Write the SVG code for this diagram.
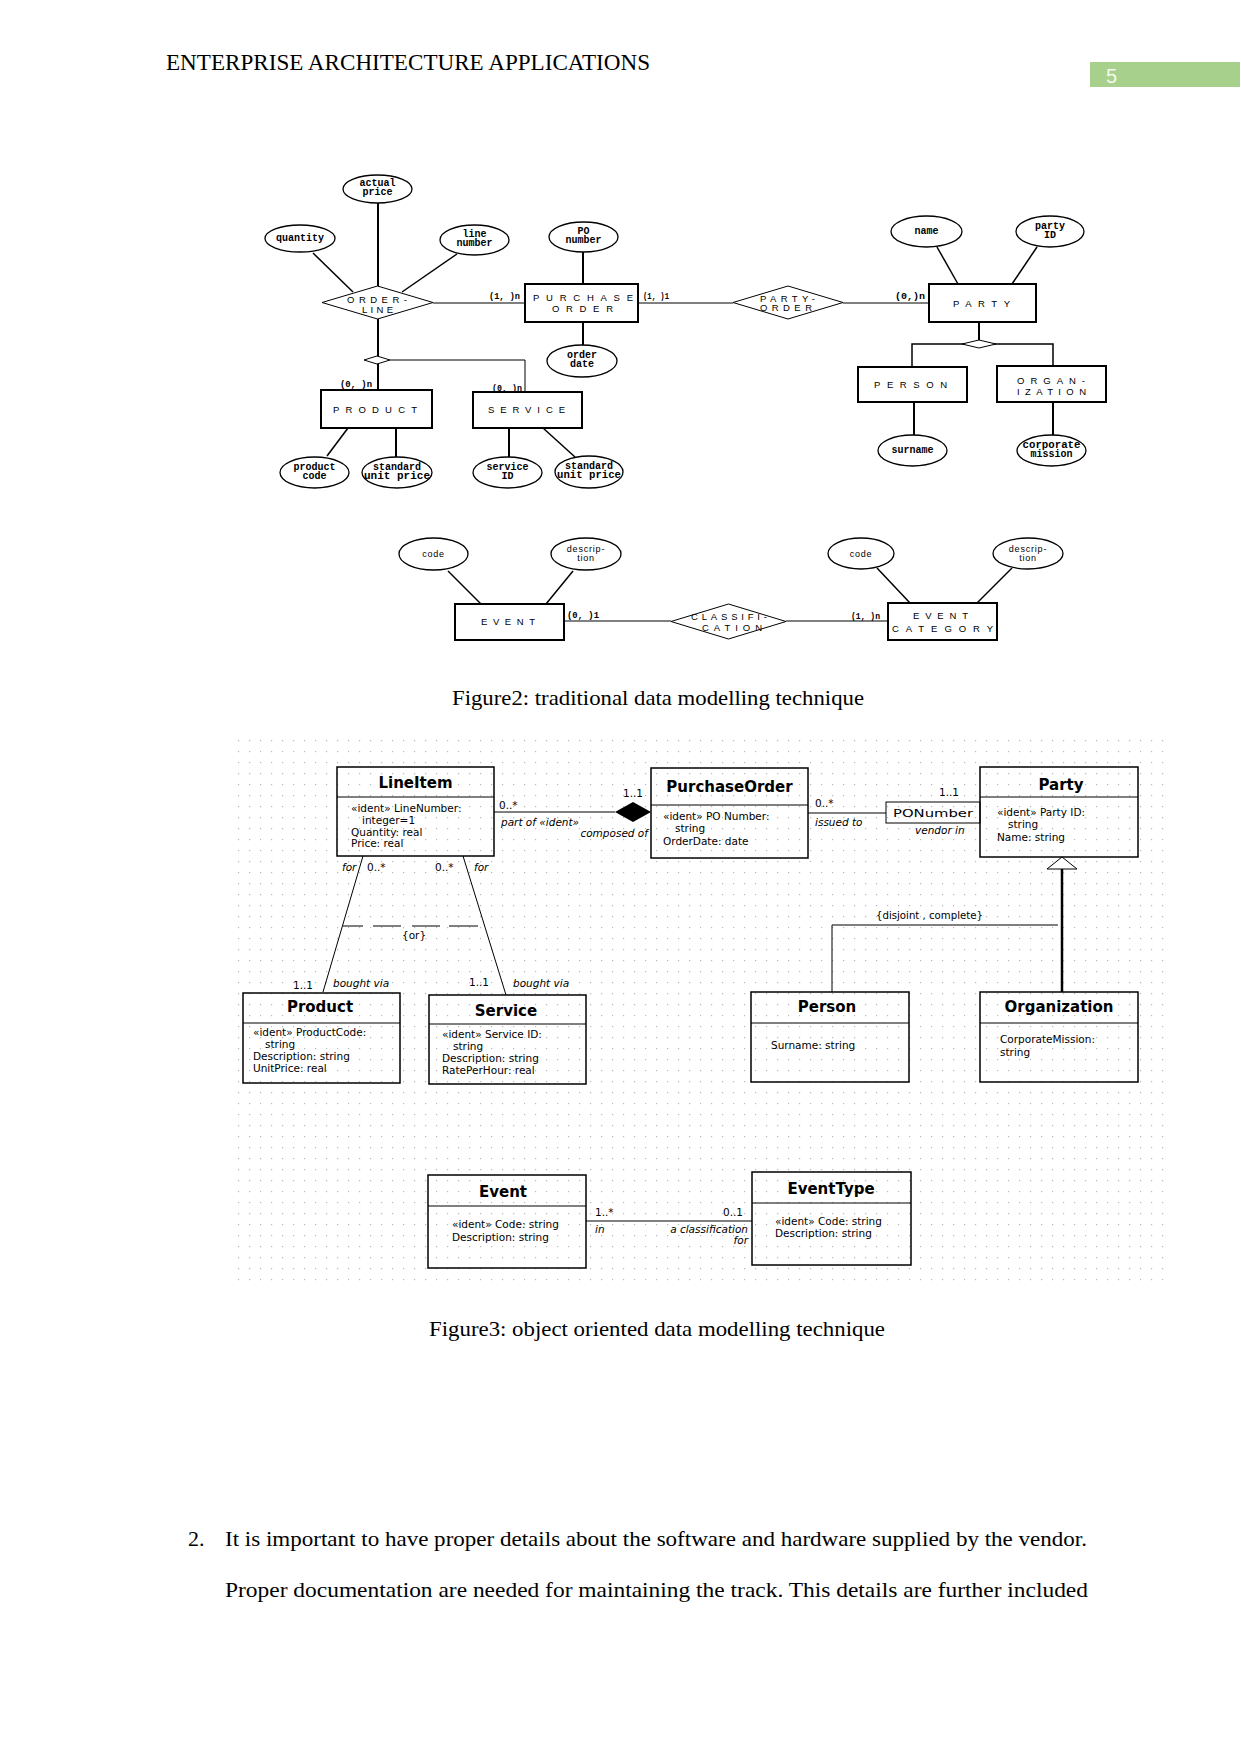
<svg xmlns="http://www.w3.org/2000/svg" width="1241" height="1754" viewBox="0 0 1241 1754">
<defs>
<pattern id="grid" x="233" y="735" width="11" height="11" patternUnits="userSpaceOnUse">
<rect x="5" y="5" width="1.2" height="1.2" fill="#b8b8b8"/>
</pattern>
</defs>
<style>
.doc{font-family:"Liberation Serif","Times New Roman",serif;fill:#000}
.ent{fill:#fff;stroke:#000;stroke-width:2}
.ell{fill:#fff;stroke:#000;stroke-width:1.3}
.dia{fill:#fff;stroke:#000;stroke-width:1}
.er{font-family:"Liberation Sans",Arial,sans-serif;font-size:9.5px;fill:#000}
.at{font-family:"Liberation Mono","Courier New",monospace;font-weight:bold;font-size:10px;fill:#000;text-anchor:middle}
.ats{font-family:"Liberation Sans",Arial,sans-serif;font-size:9px;fill:#000;text-anchor:middle;letter-spacing:0.8px}
.card{font-family:"Liberation Mono","Courier New",monospace;font-weight:bold;font-size:9px;fill:#000}
.l1{stroke:#000;stroke-width:1;fill:none}
.l15{stroke:#000;stroke-width:1.5;fill:none}
.l2{stroke:#000;stroke-width:2;fill:none}
.cls{fill:none;stroke:#000;stroke-width:1.5}
.ttl{font-family:"DejaVu Sans",Verdana,sans-serif;font-weight:bold;font-size:15px;text-anchor:middle;fill:#000}
.att{font-family:"DejaVu Sans",Verdana,sans-serif;font-size:10.5px;fill:#000}
.it{font-family:"DejaVu Sans",Verdana,sans-serif;font-size:10.5px;font-style:italic;fill:#000}
.end{text-anchor:end}
</style>

<!-- page header -->
<text class="doc" x="166" y="70" font-size="22.8" textLength="484" lengthAdjust="spacingAndGlyphs">ENTERPRISE ARCHITECTURE APPLICATIONS</text>
<rect x="1090" y="62" width="150" height="25" fill="#a8d08d"/>
<text x="1106" y="83" font-family="Liberation Sans, Arial, sans-serif" font-size="20" fill="#f3f9ec">5</text>

<!-- ===== Figure 2: ER ===== -->
<g id="er-connectors">
<path class="l2" d="M378 203 V287"/>
<path class="l15" d="M313 253 L353 292"/>
<path class="l15" d="M457 254 L402 292"/>
<path class="l1" d="M433 303 H525"/>
<path class="l2" d="M583 252 V284"/>
<path class="l2" d="M583 322 V345"/>
<path class="l2" d="M378 319 V356"/>
<path class="l1" d="M390 360 H525 V392"/>
<path class="l2" d="M378 364 V390"/>
<path class="l15" d="M348 428 L327 456"/>
<path class="l2" d="M396 428 V457"/>
<path class="l2" d="M509 428 V457"/>
<path class="l15" d="M543 428 L575 457"/>
<path class="l1" d="M638 303 H733"/>
<path class="l1" d="M843 303 H929"/>
<path class="l15" d="M937 247 L958 284"/>
<path class="l15" d="M1037 247 L1012 284"/>
<path class="l2" d="M979 322 V340"/>
<path class="l15" d="M912 367 V344 H1053 V366"/>
<path class="l2" d="M914 402 V435"/>
<path class="l2" d="M1053 402 V435"/>
<path class="l15" d="M448 571 L481 604"/>
<path class="l15" d="M573 571 L546 604"/>
<path class="l1" d="M564 621 H671"/>
<path class="l1" d="M786 621 H888"/>
<path class="l15" d="M877 568 L910 603"/>
<path class="l15" d="M1012 568 L977 603"/>
<text class="card" x="489" y="299" textLength="31" lengthAdjust="spacingAndGlyphs">(1, )n</text>
<text class="card" x="643" y="299" textLength="26" lengthAdjust="spacingAndGlyphs">(1, )1</text>
<text class="card" x="895" y="299" textLength="30" lengthAdjust="spacingAndGlyphs">(0,)n</text>
<text class="card" x="340" y="387" textLength="32" lengthAdjust="spacingAndGlyphs">(0, )n</text>
<text class="card" x="492" y="391" textLength="30" lengthAdjust="spacingAndGlyphs">(0, )n</text>
<text class="card" x="567" y="618" textLength="32" lengthAdjust="spacingAndGlyphs">(0, )1</text>
<text class="card" x="851" y="619" textLength="29" lengthAdjust="spacingAndGlyphs">(1, )n</text>
</g>

<g id="er-orderline">
<polygon class="dia" points="322,302.5 377.5,286 433,302.5 377.5,319"/>
<text class="er" x="347" y="303" textLength="60" lengthAdjust="spacing">ORDER-</text>
<text class="er" x="362" y="313" textLength="31" lengthAdjust="spacing">LINE</text>
</g>
<g id="er-subtype1"><polygon class="dia" points="364,360 377,356 390,360 377,364"/></g>
<g id="er-purchaseorder">
<rect class="ent" x="525" y="284" width="113" height="38"/>
<text class="er" x="533" y="301" textLength="100" lengthAdjust="spacing">PURCHASE</text>
<text class="er" x="552" y="312" textLength="61" lengthAdjust="spacing">ORDER</text>
</g>
<g id="er-product">
<rect class="ent" x="321" y="390" width="111" height="38"/>
<text class="er" x="333" y="413" textLength="84" lengthAdjust="spacing">PRODUCT</text>
</g>
<g id="er-service">
<rect class="ent" x="473" y="392" width="109" height="36"/>
<text class="er" x="488" y="413" textLength="77" lengthAdjust="spacing">SERVICE</text>
</g>
<g id="er-partyorder">
<polygon class="dia" points="733,302.5 788,286 843,302.5 788,319"/>
<text class="er" x="760" y="302" textLength="55" lengthAdjust="spacing">PARTY-</text>
<text class="er" x="760" y="311" textLength="52" lengthAdjust="spacing">ORDER</text>
</g>
<g id="er-party">
<rect class="ent" x="929" y="284" width="107" height="38"/>
<text class="er" x="953" y="307" textLength="57" lengthAdjust="spacing">PARTY</text>
</g>
<g id="er-subtype2"><polygon class="dia" points="962,344 979,340 996,344 979,348"/></g>
<g id="er-person">
<rect class="ent" x="858" y="367" width="109" height="35"/>
<text class="er" x="874" y="388" textLength="73" lengthAdjust="spacing">PERSON</text>
</g>
<g id="er-organization">
<rect class="ent" x="997" y="366" width="109" height="36"/>
<text class="er" x="1017" y="384" textLength="68" lengthAdjust="spacing">ORGAN-</text>
<text class="er" x="1017" y="395" textLength="69" lengthAdjust="spacing">IZATION</text>
</g>
<g id="er-event">
<rect class="ent" x="455" y="604" width="109" height="36"/>
<text class="er" x="481" y="625" textLength="54" lengthAdjust="spacing">EVENT</text>
</g>
<g id="er-classification">
<polygon class="dia" points="671,621.5 728.5,604 786,621.5 728.5,639"/>
<text class="er" x="691" y="620" textLength="76" lengthAdjust="spacing">CLASSIFI-</text>
<text class="er" x="702" y="631" textLength="60" lengthAdjust="spacing">CATION</text>
</g>
<g id="er-eventcategory">
<rect class="ent" x="888" y="603" width="109" height="37"/>
<text class="er" x="913" y="619" textLength="55" lengthAdjust="spacing">EVENT</text>
<text class="er" x="892" y="632" textLength="101" lengthAdjust="spacing">CATEGORY</text>
</g>

<g id="er-attr-actualprice"><ellipse class="ell" cx="377.5" cy="189" rx="34.5" ry="14"/><text class="at" x="377.5" y="186">actual</text><text class="at" x="377.5" y="195">price</text></g>
<g id="er-attr-quantity"><ellipse class="ell" cx="300" cy="238.5" rx="35" ry="13.5"/><text class="at" x="300" y="241">quantity</text></g>
<g id="er-attr-linenumber"><ellipse class="ell" cx="474.5" cy="240" rx="34.5" ry="15"/><text class="at" x="474.5" y="237">line</text><text class="at" x="474.5" y="246">number</text></g>
<g id="er-attr-ponumber"><ellipse class="ell" cx="583.5" cy="237" rx="34.5" ry="15"/><text class="at" x="583.5" y="234">PO</text><text class="at" x="583.5" y="243">number</text></g>
<g id="er-attr-orderdate"><ellipse class="ell" cx="582" cy="361" rx="35" ry="16"/><text class="at" x="582" y="358">order</text><text class="at" x="582" y="367">date</text></g>
<g id="er-attr-productcode"><ellipse class="ell" cx="314.5" cy="472.5" rx="34.5" ry="15.5"/><text class="at" x="314.5" y="470">product</text><text class="at" x="314.5" y="479">code</text></g>
<g id="er-attr-stdprice1"><ellipse class="ell" cx="397" cy="472.5" rx="35" ry="15.5"/><text class="at" x="397" y="470">standard</text><text class="at" x="397" y="479" textLength="66" lengthAdjust="spacingAndGlyphs">unit price</text></g>
<g id="er-attr-serviceid"><ellipse class="ell" cx="507.5" cy="472.5" rx="34.5" ry="15.5"/><text class="at" x="507.5" y="470">service</text><text class="at" x="507.5" y="479">ID</text></g>
<g id="er-attr-stdprice2"><ellipse class="ell" cx="589" cy="472" rx="34" ry="16"/><text class="at" x="589" y="469">standard</text><text class="at" x="589" y="478" textLength="64" lengthAdjust="spacingAndGlyphs">unit price</text></g>
<g id="er-attr-name"><ellipse class="ell" cx="926.5" cy="231.5" rx="35.5" ry="15.5"/><text class="at" x="926.5" y="234">name</text></g>
<g id="er-attr-partyid"><ellipse class="ell" cx="1050" cy="231.5" rx="34" ry="15.5"/><text class="at" x="1050" y="229">party</text><text class="at" x="1050" y="238">ID</text></g>
<g id="er-attr-surname"><ellipse class="ell" cx="912.5" cy="450.5" rx="34.5" ry="15.5"/><text class="at" x="912.5" y="453">surname</text></g>
<g id="er-attr-mission"><ellipse class="ell" cx="1051.5" cy="450.5" rx="34.5" ry="15.5"/><text class="at" x="1051.5" y="448" textLength="58" lengthAdjust="spacingAndGlyphs">corporate</text><text class="at" x="1051.5" y="457">mission</text></g>
<g id="er-attr-code1"><ellipse class="ell" cx="433.5" cy="554" rx="34.5" ry="16"/><text class="ats" x="433.5" y="557">code</text></g>
<g id="er-attr-desc1"><ellipse class="ell" cx="586" cy="554" rx="35" ry="16"/><text class="ats" x="586" y="552">descrip-</text><text class="ats" x="586" y="561">tion</text></g>
<g id="er-attr-code2"><ellipse class="ell" cx="861" cy="553.5" rx="33" ry="15.5"/><text class="ats" x="861" y="557">code</text></g>
<g id="er-attr-desc2"><ellipse class="ell" cx="1028" cy="553.5" rx="35" ry="15.5"/><text class="ats" x="1028" y="552">descrip-</text><text class="ats" x="1028" y="561">tion</text></g>

<text class="doc" x="452" y="705" font-size="22" textLength="412" lengthAdjust="spacingAndGlyphs">Figure2: traditional data modelling technique</text>

<!-- ===== Figure 3: UML ===== -->
<rect x="233" y="735" width="931" height="552" fill="url(#grid)"/>

<g id="uml-connectors">
<path class="l1" d="M494 812 H615"/>
<polygon points="615,812 633,802 651,812 633,822" fill="#000"/>
<path class="l1" d="M808 813 H886"/>
<path class="l1" d="M363 856 L323 992"/>
<path class="l1" d="M463 856 L506 995"/>
<path class="l1" d="M343 926 H478" stroke-dasharray="20 10 28 11 28 9 29"/>
<polygon points="1062,857 1047,869 1077,869" fill="#fff" stroke="#000" stroke-width="1"/>
<path stroke="#000" stroke-width="2.5" fill="none" d="M1062 869 V992"/>
<path class="l1" d="M1058 925 H832 V992"/>
<path class="l1" d="M586 1221 H752"/>
<text class="att" x="499" y="809">0..*</text>
<text class="att" x="623" y="797">1..1</text>
<text class="it" x="501" y="826">part of «ident»</text>
<text class="it end" x="648" y="837">composed of</text>
<text class="att" x="815" y="807">0..*</text>
<text class="it" x="815" y="826">issued to</text>
<text class="att" x="939" y="796">1..1</text>
<text class="it" x="915" y="834">vendor in</text>
<text class="it" x="342" y="871">for</text>
<text class="att" x="367" y="871">0..*</text>
<text class="att" x="435" y="871">0..*</text>
<text class="it" x="474" y="871">for</text>
<text class="att" x="402" y="939">{or}</text>
<text class="att" x="293" y="989">1..1</text>
<text class="it" x="333" y="987">bought via</text>
<text class="att" x="469" y="986">1..1</text>
<text class="it" x="513" y="987">bought via</text>
<text class="att" x="876" y="919" textLength="107" lengthAdjust="spacingAndGlyphs">{disjoint , complete}</text>
<text class="att" x="595" y="1216">1..*</text>
<text class="att" x="723" y="1216">0..1</text>
<text class="it" x="595" y="1233">in</text>
<text class="it end" x="748" y="1233">a classification</text>
<text class="it end" x="748" y="1244">for</text>
</g>

<g id="uml-ponumber">
<rect x="886" y="802" width="94" height="21" fill="none" stroke="#000" stroke-width="1"/>
<text class="att" x="893" y="817" font-size="12.5" textLength="80" lengthAdjust="spacingAndGlyphs">PONumber</text>
</g>

<g id="uml-lineitem">
<rect class="cls" x="337" y="767" width="157" height="89"/>
<path class="l1" d="M337 797 H494"/>
<text class="ttl" x="415.5" y="788">LineItem</text>
<text class="att" x="351" y="812">«ident» LineNumber:</text>
<text class="att" x="362" y="824">integer=1</text>
<text class="att" x="351" y="836">Quantity: real</text>
<text class="att" x="351" y="847">Price: real</text>
</g>
<g id="uml-purchaseorder">
<rect class="cls" x="651" y="768" width="157" height="90"/>
<path class="l1" d="M651 805 H808"/>
<text class="ttl" x="729.5" y="792">PurchaseOrder</text>
<text class="att" x="663" y="820">«ident» PO Number:</text>
<text class="att" x="675" y="832">string</text>
<text class="att" x="663" y="845">OrderDate: date</text>
</g>
<g id="uml-party">
<rect class="cls" x="980" y="767" width="158" height="90"/>
<path class="l1" d="M980 797 H1138"/>
<text class="ttl" x="1061" y="790">Party</text>
<text class="att" x="997" y="816">«ident» Party ID:</text>
<text class="att" x="1008" y="828">string</text>
<text class="att" x="997" y="841">Name: string</text>
</g>
<g id="uml-person">
<rect class="cls" x="751" y="992" width="158" height="90"/>
<path class="l1" d="M751 1023 H909"/>
<text class="ttl" x="827" y="1012">Person</text>
<text class="att" x="771" y="1049">Surname: string</text>
</g>
<g id="uml-organization">
<rect class="cls" x="980" y="992" width="158" height="90"/>
<path class="l1" d="M980 1023 H1138"/>
<text class="ttl" x="1059" y="1012">Organization</text>
<text class="att" x="1000" y="1043">CorporateMission:</text>
<text class="att" x="1000" y="1056">string</text>
</g>
<g id="uml-product">
<rect class="cls" x="243" y="993" width="157" height="90"/>
<path class="l1" d="M243 1023 H400"/>
<text class="ttl" x="320" y="1012">Product</text>
<text class="att" x="253" y="1036">«ident» ProductCode:</text>
<text class="att" x="265" y="1048">string</text>
<text class="att" x="253" y="1060">Description: string</text>
<text class="att" x="253" y="1072">UnitPrice: real</text>
</g>
<g id="uml-service">
<rect class="cls" x="429" y="995" width="157" height="89"/>
<path class="l1" d="M429 1024 H586"/>
<text class="ttl" x="506" y="1016">Service</text>
<text class="att" x="442" y="1038">«ident» Service ID:</text>
<text class="att" x="453" y="1050">string</text>
<text class="att" x="442" y="1062">Description: string</text>
<text class="att" x="442" y="1074">RatePerHour: real</text>
</g>
<g id="uml-event">
<rect class="cls" x="428" y="1175" width="158" height="93"/>
<path class="l1" d="M428 1206 H586"/>
<text class="ttl" x="503" y="1197">Event</text>
<text class="att" x="452" y="1228">«ident» Code: string</text>
<text class="att" x="452" y="1241">Description: string</text>
</g>
<g id="uml-eventtype">
<rect class="cls" x="752" y="1172" width="159" height="93"/>
<path class="l1" d="M752 1203 H911"/>
<text class="ttl" x="831" y="1194">EventType</text>
<text class="att" x="775" y="1225">«ident» Code: string</text>
<text class="att" x="775" y="1237">Description: string</text>
</g>

<text class="doc" x="429" y="1336" font-size="22" textLength="456" lengthAdjust="spacingAndGlyphs">Figure3: object oriented data modelling technique</text>

<!-- body text -->
<text class="doc" x="188" y="1546" font-size="22">2.</text>
<text class="doc" x="225" y="1546" font-size="22" textLength="862" lengthAdjust="spacingAndGlyphs">It is important to have proper details about the software and hardware supplied by the vendor.</text>
<text class="doc" x="225" y="1597" font-size="22" textLength="863" lengthAdjust="spacingAndGlyphs">Proper documentation are needed for maintaining the track. This details are further included</text>
</svg>
